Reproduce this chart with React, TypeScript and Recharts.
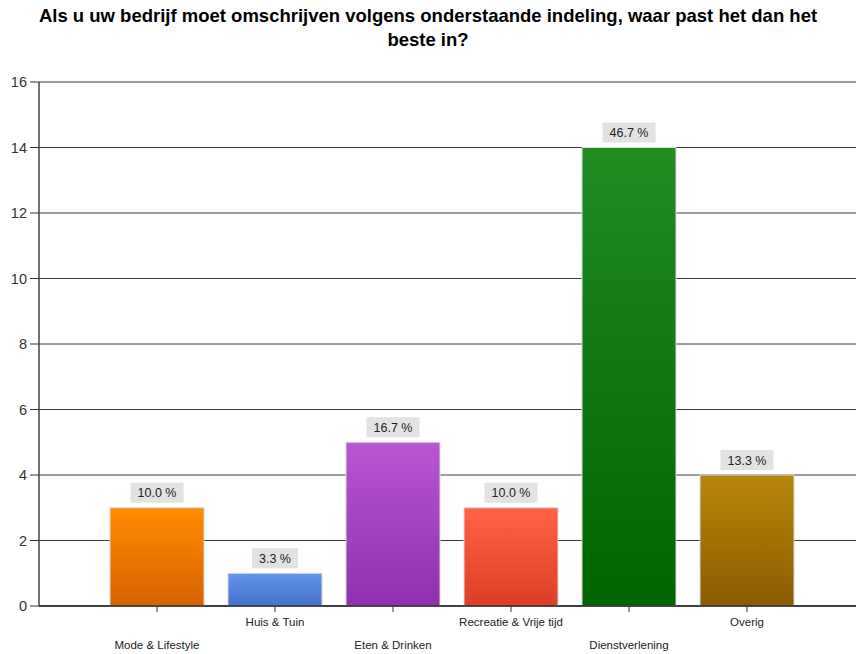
import React from "react";
import { BarChart, Bar, XAxis, YAxis, CartesianGrid, Cell, LabelList } from "recharts";

const categories = ["Mode & Lifestyle", "Huis & Tuin", "Eten & Drinken", "Recreatie & Vrije tijd", "Dienstverlening", "Overig"];
const counts = [3, 1, 5, 3, 14, 4];
const percentLabels = ["10.0 %", "3.3 %", "16.7 %", "10.0 %", "46.7 %", "13.3 %"];
const yTicks = [0, 2, 4, 6, 8, 10, 12, 14, 16];
const topColors = ["#FF8C00", "#6495ED", "#BA55D3", "#FF6347", "#228B22", "#B8860B"];
const bottomColors = ["#D76200", "#4570CC", "#9030B0", "#DB3E24", "#006400", "#8B5C00"];

const data = categories.map((name, i) => ({ name, value: counts[i], label: percentLabels[i] }));

const FONT = "'Liberation Sans', Arial, sans-serif";

const XTick = (props: any) => {
  const { x, payload, index } = props;
  const row2 = index % 2 === 0;
  return (
    <g>
      <line x1={x} x2={x} y1={606} y2={612} stroke="#333" strokeWidth={1} />
      <text x={x} y={row2 ? 649 : 626} textAnchor="middle" fontSize={11.5} fill="#222" fontFamily={FONT}>
        {payload.value}
      </text>
    </g>
  );
};

const ValueLabel = (props: any) => {
  const { x, y, width, index } = props;
  const text = percentLabels[index];
  const w = 7 * text.length + 11;
  const cx = x + width / 2;
  const boxBottom = y - 5;
  return (
    <g>
      <rect x={cx - w / 2} y={boxBottom - 20} width={w} height={20} fill="#E2E2E2" />
      <text x={cx} y={boxBottom - 5.5} textAnchor="middle" fontSize={12.5} fill="#222" fontFamily={FONT}>
        {text}
      </text>
    </g>
  );
};

export default function App() {
  return (
    <div style={{ position: "absolute", left: 0, top: 0, width: 856, height: 654, background: "#fff" }}>
      <div
        style={{
          position: "absolute",
          left: 0,
          top: 4,
          width: 856,
          textAlign: "center",
          fontFamily: FONT,
          fontWeight: "bold",
          fontSize: 18.5,
          lineHeight: "24px",
          color: "#000",
        }}
      >
        Als u uw bedrijf moet omschrijven volgens onderstaande indeling, waar past het dan het
        <br />
        beste in?
      </div>
      <BarChart width={856} height={654} data={data} margin={{ top: 82, right: 0, bottom: 0, left: 0 }}>
        <defs>
          {categories.map((c, i) => (
            <linearGradient key={c} id={`g${i}`} x1="0" y1="0" x2="0" y2="1">
              <stop offset="0%" stopColor={topColors[i]} />
              <stop offset="100%" stopColor={bottomColors[i]} />
            </linearGradient>
          ))}
        </defs>
        <CartesianGrid vertical={false} stroke="#3a3a3a" strokeWidth={1} />
        <XAxis
          dataKey="name"
          height={48}
          padding={{ left: 59, right: 50 }}
          axisLine={{ stroke: "#222", strokeWidth: 1.5 }}
          tickLine={false}
          tick={<XTick />}
          interval={0}
        />
        <YAxis
          width={39}
          domain={[0, 16]}
          ticks={yTicks}
          axisLine={{ stroke: "#444", strokeWidth: 1.5 }}
          tickLine={{ stroke: "#333" }}
          tickSize={9}
          tickMargin={3}
          tick={{ fontSize: 14.5, fill: "#333", fontFamily: FONT }}
        />
        <Bar dataKey="value" barSize={94} isAnimationActive={false} stroke="#DADADA" strokeWidth={1}>
          {data.map((d, i) => (
            <Cell key={d.name} fill={`url(#g${i})`} />
          ))}
          <LabelList dataKey="value" content={<ValueLabel />} />
        </Bar>
      </BarChart>
    </div>
  );
}
